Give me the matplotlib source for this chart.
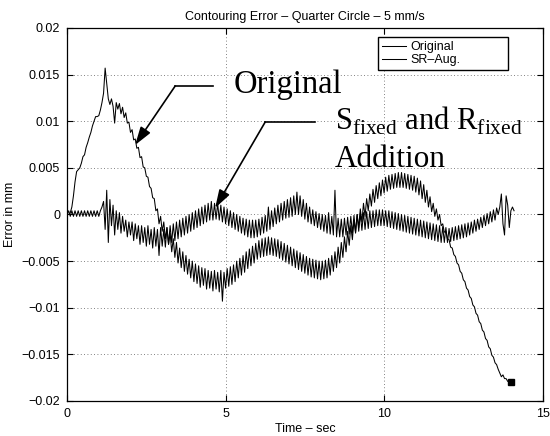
import matplotlib
matplotlib.use('Agg')
import matplotlib.pyplot as plt
import numpy as np

# ---------------- data ----------------
title = 'Contouring Error – Quarter Circle – 5 mm/s'
xlabel = 'Time – sec'
ylabel = 'Error in mm'
series_names = ['Original', 'SR–Aug.']

xticks = [0, 5, 10, 15]
xticklabels = ['0', '5', '10', '15']
yticks = [-0.02, -0.015, -0.01, -0.005, 0, 0.005, 0.01, 0.015, 0.02]
yticklabels = ['\u22120.02', '\u22120.015', '\u22120.01', '\u22120.005', '0',
               '0.005', '0.01', '0.015', '0.02']

sample_step = 0.05  # s, one row below = 1 s

orig = [
    0.0, 0.0, 0.0002, 0.0008, 0.0020, 0.0035, 0.0046, 0.0048, 0.0050, 0.0055,
    0.0062, 0.0064, 0.0072, 0.0077, 0.0083, 0.0088, 0.0095, 0.0100, 0.0105, 0.0105,
    0.0106, 0.0112, 0.0120, 0.0130, 0.0157, 0.0140, 0.0124, 0.0118, 0.0124, 0.0116,
    0.0098, 0.0120, 0.0113, 0.0119, 0.0108, 0.0115, 0.0104, 0.0109, 0.0098, 0.0099,
    0.0088, 0.0091, 0.0080, 0.0081, 0.0071, 0.0072, 0.0061, 0.0062, 0.0051, 0.0050,
    0.0041, 0.0040, 0.0030, 0.0028, 0.0018, 0.0017, 0.0004, 0.0006, -0.0010, -0.0002,
    -0.0018, -0.0008, -0.0026, -0.0014, -0.0032, -0.0020, -0.0040, -0.0026, -0.0046, -0.0030,
    -0.0052, -0.0036, -0.0057, -0.0040, -0.0061, -0.0044, -0.0064, -0.0048, -0.0068, -0.0050,
    -0.0072, -0.0053, -0.0074, -0.0055, -0.0078, -0.0057, -0.0076, -0.0058, -0.0080, -0.0060,
    -0.0079, -0.0061, -0.0082, -0.0060, -0.0080, -0.0062, -0.0083, -0.0060, -0.0093, -0.0062,
    -0.0079, -0.0058, -0.0077, -0.0056, -0.0075, -0.0054, -0.0072, -0.0050, -0.0068, -0.0047,
    -0.0065, -0.0044, -0.0062, -0.0040, -0.0058, -0.0037, -0.0055, -0.0034, -0.0052, -0.0031,
    -0.0048, -0.0028, -0.0046, -0.0026, -0.0045, -0.0025, -0.0044, -0.0024, -0.0043, -0.0025,
    -0.0044, -0.0026, -0.0045, -0.0027, -0.0047, -0.0029, -0.0049, -0.0031, -0.0051, -0.0033,
    -0.0053, -0.0035, -0.0055, -0.0037, -0.0057, -0.0039, -0.0059, -0.0041, -0.0061, -0.0043,
    -0.0063, -0.0045, -0.0065, -0.0047, -0.0067, -0.0048, -0.0068, -0.0049, -0.0069, -0.0050,
    -0.0070, -0.0050, -0.0069, -0.0049, -0.0068, -0.0047, -0.0065, -0.0044, -0.0061, -0.0040,
    -0.0057, -0.0035, -0.0052, -0.0030, -0.0046, -0.0024, -0.0040, -0.0018, -0.0033, -0.0012,
    -0.0027, -0.0006, -0.0020, 0.0000, -0.0014, 0.0006, -0.0008, 0.0012, -0.0002, 0.0017,
    0.0004, 0.0022, 0.0009, 0.0027, 0.0013, 0.0031, 0.0017, 0.0034, 0.0020, 0.0037,
    0.0023, 0.0040, 0.0025, 0.0042, 0.0027, 0.0043, 0.0028, 0.0044, 0.0029, 0.0045,
    0.0029, 0.0045, 0.0029, 0.0044, 0.0028, 0.0043, 0.0027, 0.0042, 0.0026, 0.0041,
    0.0024, 0.0039, 0.0021, 0.0036, 0.0017, 0.0032, 0.0013, 0.0026, 0.0008, 0.0019,
    0.0003, 0.0012, -0.0002, 0.0006, -0.0006, 0.0000, -0.0012, -0.0010, -0.0019, -0.0018,
    -0.0026, -0.0027, -0.0035, -0.0036, -0.0043, -0.0045, -0.0052, -0.0054, -0.0061, -0.0063,
    -0.0070, -0.0072, -0.0079, -0.0081, -0.0088, -0.0090, -0.0097, -0.0099, -0.0106, -0.0108,
    -0.0115, -0.0117, -0.0124, -0.0126, -0.0133, -0.0135, -0.0142, -0.0144, -0.0151, -0.0153,
    -0.0159, -0.0161, -0.0166, -0.0170, -0.0174, -0.0172, -0.0176, -0.0176, -0.0179, -0.0179,
    -0.0180]

sr_aug = [
    0.0, 0.0004, -0.0002, 0.0004, -0.0002, 0.0004, -0.0002, 0.0004, -0.0002, 0.0004,
    -0.0002, 0.0004, -0.0002, 0.0004, -0.0002, 0.0004, -0.0002, 0.0004, -0.0002, 0.0004,
    -0.0002, 0.0004, 0.0008, 0.0014, -0.0016, 0.0026, -0.0030, 0.0016, -0.0012, 0.0010,
    -0.0022, 0.0004, -0.0016, 0.0002, -0.0020, -0.0002, -0.0018, -0.0006, -0.0024, -0.0008,
    -0.0022, -0.0008, -0.0028, -0.0010, -0.0026, -0.0012, -0.0032, -0.0012, -0.0030, -0.0014,
    -0.0034, -0.0012, -0.0032, -0.0016, -0.0036, -0.0014, -0.0034, -0.0016, -0.0044, -0.0014,
    -0.0034, -0.0016, -0.0035, -0.0014, -0.0032, -0.0012, -0.0030, -0.0010, -0.0028, -0.0008,
    -0.0026, -0.0006, -0.0024, -0.0004, -0.0022, -0.0002, -0.0020, 0.0000, -0.0018, 0.0002,
    -0.0016, 0.0004, -0.0014, 0.0006, -0.0012, 0.0008, -0.0010, 0.0010, -0.0008, 0.0012,
    -0.0006, 0.0014, -0.0006, 0.0012, -0.0005, 0.0012, -0.0006, 0.0010, -0.0008, 0.0008,
    -0.0010, 0.0006, -0.0012, 0.0004, -0.0014, 0.0002, -0.0016, 0.0000, -0.0018, -0.0002,
    -0.0020, -0.0004, -0.0022, -0.0005, -0.0024, -0.0006, -0.0025, -0.0006, -0.0025, -0.0006,
    -0.0024, -0.0005, -0.0022, -0.0003, -0.0020, -0.0001, -0.0018, 0.0008, -0.0016, 0.0004,
    -0.0013, 0.0007, -0.0010, 0.0010, -0.0008, 0.0012, -0.0006, 0.0014, -0.0004, 0.0016,
    -0.0003, 0.0018, -0.0002, 0.0020, 0.0000, 0.0024, 0.0000, 0.0020, -0.0002, 0.0016,
    -0.0005, 0.0012, -0.0008, 0.0008, -0.0010, 0.0005, -0.0012, 0.0003, -0.0014, 0.0001,
    -0.0016, 0.0000, -0.0018, -0.0001, -0.0020, 0.0002, -0.0021, -0.0002, -0.0022, 0.0026,
    -0.0024, -0.0004, -0.0024, -0.0005, -0.0024, -0.0004, -0.0022, -0.0003, -0.0021, -0.0002,
    -0.0020, -0.0001, -0.0019, 0.0000, -0.0018, 0.0001, -0.0017, 0.0002, -0.0016, 0.0003,
    -0.0015, 0.0004, -0.0014, 0.0004, -0.0013, 0.0005, -0.0012, 0.0005, -0.0012, 0.0005,
    -0.0012, 0.0004, -0.0013, 0.0004, -0.0014, 0.0003, -0.0015, 0.0002, -0.0016, 0.0001,
    -0.0017, 0.0000, -0.0018, -0.0001, -0.0019, -0.0002, -0.0020, -0.0003, -0.0021, -0.0004,
    -0.0022, -0.0005, -0.0023, -0.0006, -0.0024, -0.0007, -0.0025, -0.0008, -0.0026, -0.0009,
    -0.0027, -0.0010, -0.0028, -0.0011, -0.0029, -0.0012, -0.0030, -0.0013, -0.0030, -0.0014,
    -0.0030, -0.0015, -0.0029, -0.0014, -0.0028, -0.0013, -0.0027, -0.0012, -0.0026, -0.0011,
    -0.0025, -0.0010, -0.0024, -0.0009, -0.0022, -0.0008, -0.0020, -0.0006, -0.0018, -0.0005,
    -0.0016, -0.0003, -0.0014, -0.0001, -0.0012, 0.0001, -0.0010, 0.0003, -0.0008, 0.0005,
    -0.0006, 0.0007, 0.0000, 0.0008, 0.0022, -0.0010, -0.0022, 0.0020, 0.0010, -0.0014,
    0.0004, 0.0008, 0.0004]

# annotation texts
label_orig = 'Original'
label_sr1 = r'S$_{\mathrm{fixed}}$ and R$_{\mathrm{fixed}}$'
label_sr2 = 'Addition'

# ---------------- plotting ----------------
plt.rcParams['font.family'] = ['Liberation Sans', 'DejaVu Sans']
plt.rcParams['mathtext.fontset'] = 'custom'
plt.rcParams['mathtext.rm'] = 'Liberation Serif'
plt.rcParams['axes.unicode_minus'] = True

t_orig = np.round(np.arange(len(orig)) * sample_step, 3)
t_sr = np.round(np.arange(len(sr_aug)) * sample_step, 3)

fig = plt.figure(figsize=(5.5, 4.36), dpi=100)
ax = fig.add_axes([0.122, 0.0803, 0.8645, 0.8555])

l1, = ax.plot(t_orig, orig, color='k', lw=0.75)
l2, = ax.plot(t_sr, sr_aug, color='k', lw=0.75)
ax.plot(t_orig[-1:], orig[-1:], 's', color='k', ms=5)

ax.set_xlim(0, 15)
ax.set_ylim(-0.02, 0.02)
ax.set_xticks(xticks)
ax.set_xticklabels(xticklabels)
ax.set_yticks(yticks)
ax.set_yticklabels(yticklabels)
ax.tick_params(direction='in', top=True, right=True, length=4, width=0.8,
               labelsize=9, pad=5)
ax.grid(True, linestyle=(0, (1, 3)), color='0.35', lw=0.6)
for s in ax.spines.values():
    s.set_linewidth(0.9)

ax.set_title(title, fontsize=9, pad=6)
ax.set_xlabel(xlabel, fontsize=9, labelpad=2)
ax.set_ylabel(ylabel, fontsize=9, labelpad=4)

leg = ax.legend([l1, l2], series_names, loc='upper left',
                bbox_to_anchor=(0.654, 0.887, 0.273, 0.089), mode='expand',
                borderaxespad=0, fancybox=False, edgecolor='k', framealpha=1,
                fontsize=9, handlelength=1.9, handletextpad=0.35,
                borderpad=0.35, labelspacing=0.05)
leg.get_frame().set_linewidth(1.0)

serif = 'Liberation Serif'
ax.text(5.24, 0.01303, label_orig, family=serif, fontsize=23.5, va='baseline')
ax.text(8.45, 0.00906, label_sr1, family=serif, fontsize=22, va='baseline')
ax.text(8.45, 0.00509, label_sr2, family=serif, fontsize=22.5, va='baseline')

arrow_style = dict(arrowstyle='-|>,head_length=1.1,head_width=0.35', color='k',
                   lw=1.2, shrinkA=0, shrinkB=0, mutation_scale=10)
ax.plot([4.61, 3.41], [0.01378, 0.01378], color='k', lw=1.2)
ax.annotate('', xy=(2.145, 0.00745), xytext=(3.41, 0.01378), arrowprops=arrow_style)
ax.plot([7.82, 6.25], [0.00992, 0.00992], color='k', lw=1.2)
ax.annotate('', xy=(4.67, 0.0007), xytext=(6.25, 0.00992), arrowprops=arrow_style)

fig.savefig('out.png', dpi=100)
